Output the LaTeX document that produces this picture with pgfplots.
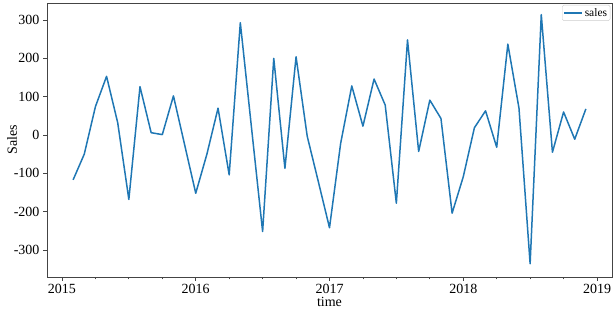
\documentclass[border=0pt]{standalone}
\usepackage{fontspec}
\setmainfont{Liberation Serif}
\usepackage{pgfplots}
\usepackage{pgfplotstable}
\pgfplotsset{compat=1.18}
\definecolor{c0}{HTML}{1F77B4}
\definecolor{framec}{HTML}{444444}
\pgfplotstableread{
y m v
2015 2 -117
2015 3 -50
2015 4 74
2015 5 153
2015 6 32
2015 7 -168
2015 8 126
2015 9 6
2015 10 1
2015 11 102
2015 12 -25
2016 1 -152
2016 2 -50
2016 3 70
2016 4 -104
2016 5 293
2016 6 20
2016 7 -252
2016 8 200
2016 9 -87
2016 10 204
2016 11 -3
2016 12 -122
2017 1 -242
2017 2 -22
2017 3 128
2017 4 23
2017 5 146
2017 6 78
2017 7 -178
2017 8 248
2017 9 -43
2017 10 91
2017 11 43
2017 12 -204
2018 1 -109
2018 2 19
2018 3 63
2018 4 -32
2018 5 237
2018 6 70
2018 7 -336
2018 8 314
2018 9 -45
2018 10 60
2018 11 -11
2018 12 68
}\sales
\begin{document}
\begin{tikzpicture}
\begin{axis}[
  name=ax,
  scale only axis,
  width=565pt, height=274pt,
  xmin=2014.888, xmax=2019.112,
  ymin=-370.5, ymax=344.4,
  xtick={2015,2016,2017,2018,2019},
  minor xtick={2015.25,2015.5,2015.75,2016.25,2016.5,2016.75,2017.25,2017.5,2017.75,2018.25,2018.5,2018.75},
  ytick={-300,-200,-100,0,100,200,300},
  scaled x ticks=false, scaled y ticks=false,
  /pgf/number format/1000 sep={},
  /pgf/number format/assume math mode=true,
  xticklabel={\pgfmathprintnumber{\tick}},
  yticklabel={\pgfmathprintnumber{\tick}},
  tick pos=left,
  tick align=outside,
  major tick length=4pt,
  minor tick length=2.5pt,
  every tick/.style={framec, line width=0.8pt},
  axis line style={framec, line width=0.8pt},
  tick label style={font=\fontsize{14}{16}\selectfont},
  label style={font=\fontsize{14}{16}\selectfont},
  xlabel={time},
  ylabel={Sales},
  xlabel style={at={(axis description cs:0.5,-0.0912)}, anchor=center},
  ylabel style={at={(axis description cs:-0.062,0.5)}, anchor=center},
  legend style={at={(rel axis cs:0.997,0.993)}, anchor=north east,
    draw=black!20, rounded corners=1.5pt, inner sep=1pt,
    font=\fontsize{11.5}{12}\selectfont, row sep=0pt},
  legend cell align=left,
  legend image code/.code={\draw[#1, line width=1.5pt] (0pt,0pt) -- (18pt,0pt);},
]
\addplot[c0, line width=1.5pt, line join=round] table[x expr=\thisrow{y}+(\thisrow{m}-1)/12, y=v] {\sales};
\addlegendentry{sales}
\end{axis}
\pgfresetboundingbox
\path (ax.south west) ++(-47pt,-35pt) rectangle ++(614pt,312pt);
\end{tikzpicture}
\end{document}
